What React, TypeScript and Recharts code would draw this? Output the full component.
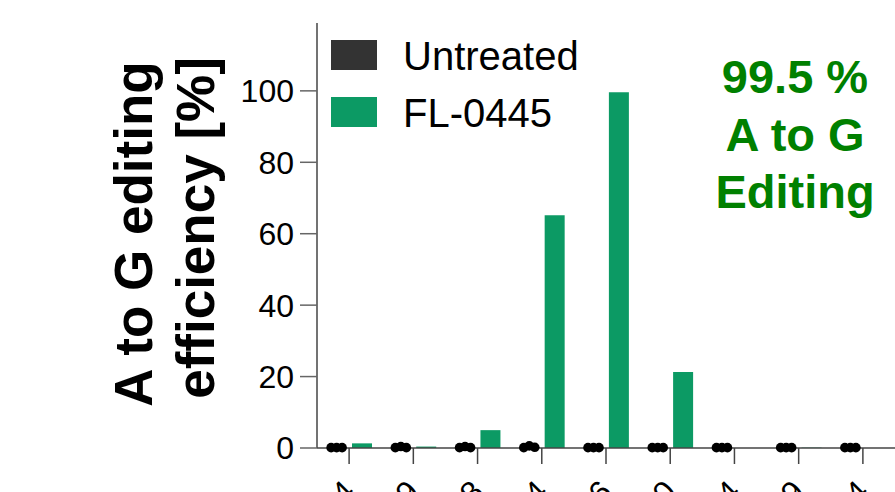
import React from "react";
import { ComposedChart, Bar, Scatter, XAxis, YAxis, Legend } from "recharts";

const positions = ["A-14", "A-9", "A-8", "A-4", "A6", "A10", "A14", "A19", "A24"];
const untreatedMean = [0.1, 0.2, 0.2, 0.3, 0.1, 0.1, 0.1, 0.1, 0.1];
const untreatedRep1 = [0.1, 0.1, 0.1, 0.1, 0.1, 0.1, 0.1, 0.1, 0.1];
const untreatedRep2 = [0.1, 0.4, 0.4, 0.6, 0.1, 0.1, 0.1, 0.1, 0.1];
const untreatedRep3 = [0.1, 0.1, 0.1, 0.2, 0.1, 0.1, 0.1, 0.1, 0.1];
const fl0445 = [1.3, 0.4, 5.0, 65.2, 99.6, 21.3, 0, 0.1, 0];
const yTicks = [0, 20, 40, 60, 80, 100];
const seriesNames = ["Untreated", "FL-0445"];
const annotationLines = ["99.5 %", "A to G", "Editing"];

const data = positions.map((p, i) => ({
  pos: p,
  untreated: untreatedMean[i],
  rep1: untreatedRep1[i],
  rep2: untreatedRep2[i],
  rep3: untreatedRep3[i],
  fl: fl0445[i],
}));

const FONT = "'Liberation Sans', Arial, sans-serif";
const GREEN = "#0c9a64";
const DARK = "#333333";
const AXIS = "#444444";

const dot = (offset: number) => (props: any) => (
  <circle cx={props.cx + offset} cy={props.cy} r={4.8} fill="#000" />
);

const XTick = (props: any) => {
  const { x, y, payload } = props;
  return (
    <g transform={`translate(${x + 8},${y + 28}) rotate(-45)`}>
      <text textAnchor="end" fontFamily={FONT} fontSize={32} fill="#000">
        {payload.value}
      </text>
    </g>
  );
};

const LegendContent = () => (
  <svg width={320} height={92} style={{ display: "block", overflow: "visible" }}>
    <rect x={0} y={0} width={46} height={30} fill={DARK} />
    <text x={72} y={30} fontFamily={FONT} fontSize={40} fill="#000">
      {seriesNames[0]}
    </text>
    <rect x={0} y={57} width={46} height={30} fill={GREEN} />
    <text x={72} y={87} fontFamily={FONT} fontSize={40} fill="#000">
      {seriesNames[1]}
    </text>
  </svg>
);

export default function App() {
  return (
    <div style={{ position: "absolute", left: 0, top: 0, width: 895, height: 492, overflow: "hidden", background: "#fff" }}>
      <ComposedChart
        width={895}
        height={492}
        data={data}
        margin={{ top: 23, right: 0, bottom: 0, left: 0 }}
        barSize={20}
        barGap={5}
      >
        <XAxis
          dataKey="pos"
          interval={0}
          height={44}
          tickSize={16}
          tickLine={{ stroke: AXIS, strokeWidth: 1.5 }}
          axisLine={{ stroke: AXIS, strokeWidth: 1.5 }}
          tick={<XTick />}
        />
        <XAxis
          xAxisId="top"
          dataKey="pos"
          orientation="top"
          height={0}
          tick={false}
          tickLine={false}
          axisLine={{ stroke: "#777", strokeWidth: 1.5 }}
        />
        <YAxis
          width={317}
          domain={[0, 119]}
          ticks={yTicks}
          tickSize={17}
          tickMargin={6}
          tickLine={{ stroke: "#666", strokeWidth: 1.5 }}
          axisLine={{ stroke: AXIS, strokeWidth: 1.5 }}
          tick={{ fontFamily: FONT, fontSize: 32, fill: "#000" }}
        />
        <Legend
          layout="vertical"
          align="center"
          verticalAlign="middle"
          content={<LegendContent />}
          wrapperStyle={{ left: 331, top: 40, width: 320, height: 92 }}
        />
        <Bar dataKey="untreated" name={seriesNames[0]} fill={DARK} isAnimationActive={false} />
        <Bar dataKey="fl" name={seriesNames[1]} fill={GREEN} isAnimationActive={false} />
        <Scatter dataKey="rep1" shape={dot(-18)} legendType="none" isAnimationActive={false} />
        <Scatter dataKey="rep2" shape={dot(-12.5)} legendType="none" isAnimationActive={false} />
        <Scatter dataKey="rep3" shape={dot(-7)} legendType="none" isAnimationActive={false} />
        <g>
          <text
            transform="translate(152,234) rotate(-90)"
            textAnchor="middle"
            fontFamily={FONT}
            fontWeight="bold"
            fontSize={53}
            fill="#000"
          >
            A to G editing
          </text>
          <text
            transform="translate(214,228) rotate(-90)"
            textAnchor="middle"
            fontFamily={FONT}
            fontWeight="bold"
            fontSize={53}
            fill="#000"
          >
            efficiency [%]
          </text>
        </g>
        <g>
          {annotationLines.map((t, i) => (
            <text
              key={t}
              x={795}
              y={93 + i * 57.5}
              textAnchor="middle"
              fontFamily={FONT}
              fontWeight="bold"
              fontSize={47}
              fill="#008000"
            >
              {t}
            </text>
          ))}
        </g>
      </ComposedChart>
    </div>
  );
}
